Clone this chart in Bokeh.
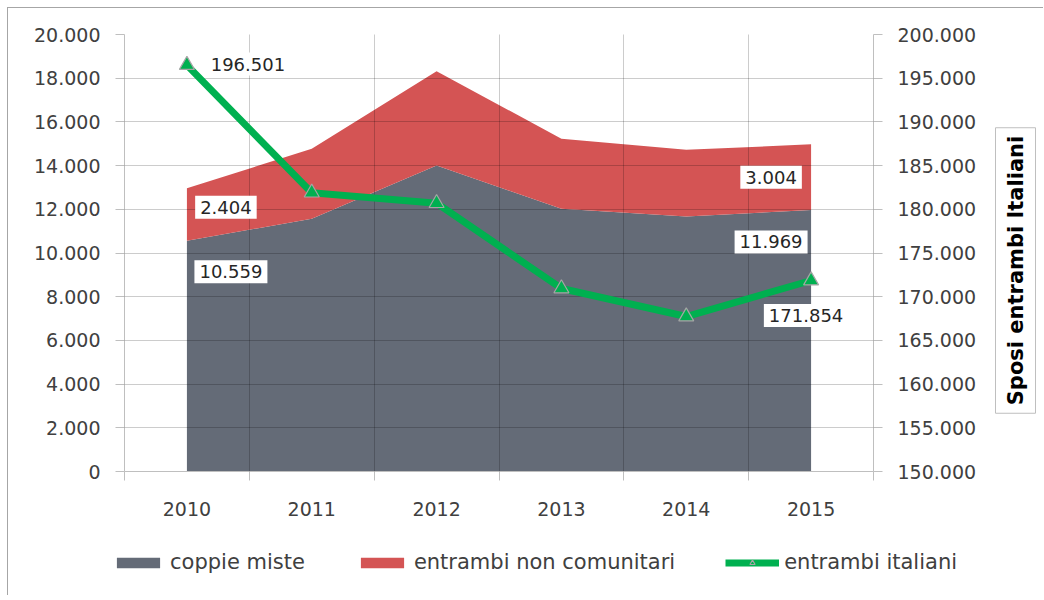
import math
from bokeh.plotting import figure
from bokeh.layouts import row, column, Spacer
from bokeh.models import (Range1d, LinearAxis, FixedTicker, CustomJSTickFormatter,
                          Legend, LegendItem, Label, ColumnDataSource)
from bokeh.embed import file_html
from bokeh.resources import INLINE

# ---------------- data ----------------
years = [2010, 2011, 2012, 2013, 2014, 2015]
coppie_miste = [10559, 11570, 14000, 12020, 11670, 11969]
non_comunitari = [2404, 3200, 4320, 3210, 3050, 3004]
italiani = [196501, 181900, 180700, 170940, 167730, 171854]
left_ticks = [0, 2000, 4000, 6000, 8000, 10000, 12000, 14000, 16000, 18000, 20000]
right_ticks = [150000, 155000, 160000, 165000, 170000, 175000, 180000, 185000, 190000, 195000, 200000]
series_names = ["coppie miste", "entrambi non comunitari", "entrambi italiani"]
axis_title = "Sposi entrambi Italiani"

# ---------------- style ----------------
GRAY = "#646B77"
RED = "#D45454"
GREEN = "#00B050"
TXT = "#404040"
FONT = "DejaVu Sans"
AXC = "#BFBFBF"

src = ColumnDataSource(dict(x=years, coppie=coppie_miste, noncom=non_comunitari, ital=italiani))

p = figure(width=982, height=527,
           x_range=Range1d(years[0] - 0.5, years[-1] + 0.5),
           y_range=Range1d(left_ticks[0], left_ticks[-1]),
           output_backend="svg", toolbar_location=None,
           min_border_left=116, min_border_right=117,
           min_border_top=26, min_border_bottom=64)
p.extra_y_ranges = {"ital": Range1d(right_ticks[0], right_ticks[-1])}
p.outline_line_color = None
p.background_fill_color = "white"
p.border_fill_color = "white"

dot_fmt = CustomJSTickFormatter(code=r"""
return tick.toFixed(0).replace(/\B(?=(\d{3})+(?!\d))/g, ".");
""")
year_fmt = CustomJSTickFormatter(code="return tick.toFixed(0);")

boundaries = [y - 0.5 for y in years] + [years[-1] + 0.5]

# x axis
xa = p.xaxis[0]
xa.ticker = FixedTicker(ticks=years, minor_ticks=boundaries)
xa.formatter = year_fmt
xa.major_tick_line_color = None
xa.major_tick_out = 0
xa.major_tick_in = 0
xa.minor_tick_out = 9
xa.minor_tick_in = 0
xa.minor_tick_line_color = AXC
xa.axis_line_color = AXC
xa.major_label_standoff = 21
xa.major_label_text_font = FONT
xa.major_label_text_font_size = "19px"
xa.major_label_text_color = TXT

# left y axis
ya = p.yaxis[0]
ya.ticker = FixedTicker(ticks=left_ticks)
ya.formatter = dot_fmt
ya.minor_tick_line_color = None
ya.major_tick_out = 9
ya.major_tick_in = 0
ya.major_tick_line_color = AXC
ya.axis_line_color = AXC
ya.major_label_standoff = 15
ya.major_label_text_font = FONT
ya.major_label_text_font_size = "19px"
ya.major_label_text_color = TXT

# right y axis
ra = LinearAxis(y_range_name="ital", ticker=FixedTicker(ticks=right_ticks), formatter=dot_fmt)
ra.minor_tick_line_color = None
ra.major_tick_out = 9
ra.major_tick_in = 0
ra.major_tick_line_color = AXC
ra.axis_line_color = AXC
ra.major_label_standoff = 15
ra.major_label_text_font = FONT
ra.major_label_text_font_size = "19px"
ra.major_label_text_color = TXT
p.add_layout(ra, "right")

# grids drawn over the areas
p.xgrid.ticker = FixedTicker(ticks=boundaries)
for g in (p.xgrid[0], p.ygrid[0]):
    g.grid_line_color = "black"
    g.grid_line_alpha = 0.2
    g.level = "guide"

# stacked areas
areas = p.varea_stack(["coppie", "noncom"], x="x", source=src, color=[GRAY, RED])

# line with triangles
ln = p.line("x", "ital", source=src, y_range_name="ital", line_width=7, color=GREEN,
            line_join="round")
mk = p.scatter("x", "ital", source=src, y_range_name="ital", marker="triangle", size=15,
               fill_color=GREEN, line_color="#A5A5A5", line_width=1.2)
ln.level = "annotation"
mk.level = "annotation"


def fmt(v):
    return f"{v:,}".replace(",", ".")


def add_label(x, y, text, dx, dy, rng="default"):
    p.add_layout(Label(x=x, y=y, text=text, x_offset=dx, y_offset=dy, y_range_name=rng,
                       text_align="center", text_baseline="middle",
                       text_font=FONT, text_font_size="18px", text_color="#262626",
                       background_fill_color="white", padding=5))


stack_top0 = coppie_miste[0] + non_comunitari[0]
stack_top5 = coppie_miste[-1] + non_comunitari[-1]
add_label(years[0], italiani[0], fmt(italiani[0]), 61, 1, "ital")
add_label(years[0], stack_top0, fmt(non_comunitari[0]), 39, -19)
add_label(years[0], coppie_miste[0], fmt(coppie_miste[0]), 44, -31)
add_label(years[-1], stack_top5, fmt(non_comunitari[-1]), -40, -33)
add_label(years[-1], coppie_miste[-1], fmt(coppie_miste[-1]), -40, -32)
add_label(years[-1], italiani[-1], fmt(italiani[-1]), -5, -35, "ital")

# side strip holding the boxed axis title
p2 = figure(width=53, height=527, x_range=Range1d(0, 1), y_range=Range1d(0, 1),
            output_backend="svg", toolbar_location=None,
            x_axis_location=None, y_axis_location=None, min_border=0)
p2.outline_line_color = None
p2.grid.visible = False
p2.add_layout(Label(x=25, y=201, x_units="screen", y_units="screen", text=axis_title,
                    angle=math.pi / 2, text_align="center", text_baseline="middle",
                    text_font=FONT, text_font_style="bold", text_font_size="21px",
                    text_color="black", border_line_color="#BFBFBF",
                    background_fill_color="white", padding=8))

# bottom strip holding the legend; its renderers use the same data but sit
# outside this strip's ranges, so only their legend glyphs show
p3 = figure(width=1035, height=60, x_range=Range1d(0, 1), y_range=Range1d(0, 1),
            output_backend="svg", toolbar_location=None,
            x_axis_location=None, y_axis_location=None, min_border=0)
p3.outline_line_color = None
p3.grid.visible = False
lg_areas = p3.varea_stack(["coppie", "noncom"], x="x", source=src, color=[GRAY, RED])
lg_ln = p3.line("x", "ital", source=src, line_width=7, color=GREEN)
lg_mk = p3.scatter("x", "ital", source=src, marker="triangle", size=15, fill_color=GREEN,
                   line_color="#A5A5A5", line_width=1.2)
legend = Legend(items=[LegendItem(label=series_names[0], renderers=[lg_areas[0]]),
                       LegendItem(label=series_names[1], renderers=[lg_areas[1]]),
                       LegendItem(label=series_names[2], renderers=[lg_ln, lg_mk])],
                location=(103, 21), orientation="horizontal",
                glyph_width=54, glyph_height=13, label_standoff=5, spacing=50,
                padding=0, margin=0, border_line_color=None, background_fill_alpha=0,
                label_text_font=FONT, label_text_font_size="21px", label_text_color=TXT)
p3.add_layout(legend)

inner = column(row(p, p2, spacing=0), p3, spacing=0)
inner.styles = {"border-top": "1px solid #A6A6A6", "border-left": "1px solid #A6A6A6"}
layout = column(Spacer(height=7), row(Spacer(width=7), inner, spacing=0), spacing=0)

open("out.html", "w").write(file_html(layout, INLINE))
